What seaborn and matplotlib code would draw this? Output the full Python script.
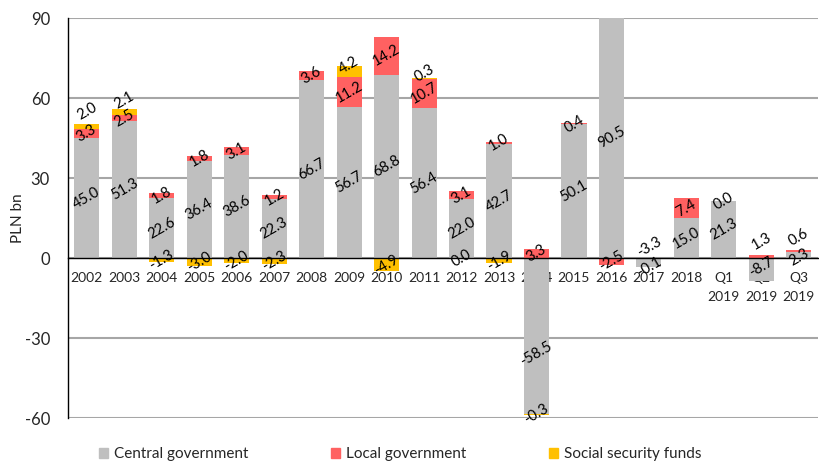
import numpy as np
import pandas as pd
import matplotlib
matplotlib.use("Agg")
import matplotlib.pyplot as plt
import matplotlib.patches as mpatches
import seaborn as sns

# -----------------------------------
# DATA (PLN bn)
# -----------------------------------
periods = ["2002", "2003", "2004", "2005", "2006", "2007", "2008", "2009", "2010",
           "2011", "2012", "2013", "2014", "2015", "2016", "2017", "2018",
           "Q1\n2019", "Q2\n2019", "Q3\n2019"]

central = [45.0, 51.3, 22.6, 36.4, 38.6, 22.3, 66.7, 56.7, 68.8, 56.4, 22.0, 42.7,
           -58.5, 50.1, 90.5, -3.3, 15.0, 21.3, -8.7, 2.3]
local = [3.3, 2.5, 1.8, 1.8, 3.1, 1.2, 3.6, 11.2, 14.2, 10.7, 3.1, 1.0,
         3.3, 0.4, -2.5, np.nan, 7.4, 0.0, 1.3, 0.6]
# 2012 value is shown as 0.0 but sits on the negative side in the chart
social = [2.0, 2.1, -1.3, -3.0, -2.0, -2.3, np.nan, 4.2, -4.9, 0.3, -0.04, -1.9,
          -0.3, np.nan, np.nan, -0.1, np.nan, np.nan, np.nan, np.nan]

series_names = ["Central government", "Local government", "Social security funds"]
colors = ["#BFBFBF", "#FF6161", "#FFC000"]

# label nudges in points (series index, bar index) -> dy, to keep labels apart
nudge = {(2, 0): 11, (2, 1): 8, (2, 7): 4, (2, 9): 4, (1, 18): 11,
         (1, 19): 10, (0, 15): 11, (0, 12): -13, (0, 18): 2, (0, 19): -2}


def fmt(val):
    s = f"{val:.1f}"
    return "0.0" if s == "-0.0" else s


# -----------------------------------
# STYLE
# -----------------------------------
sns.set_style("white")
plt.rcParams["font.family"] = ["Lato", "DejaVu Sans"]

fig, ax = plt.subplots(figsize=(8.2, 4.63), dpi=100)
fig.subplots_adjust(left=0.083, right=0.997, top=0.961, bottom=0.097)

# stacking: positives upward, negatives downward (Excel style)
pos_base = np.zeros(len(periods))
neg_base = np.zeros(len(periods))

for k, (name, vals, col) in enumerate(zip(series_names, [central, local, social], colors)):
    v = np.nan_to_num(np.array(vals, dtype=float))
    bottom = np.where(v >= 0, pos_base, neg_base)
    df = pd.DataFrame({"period": periods, "value": v})
    sns.barplot(data=df, x="period", y="value", bottom=bottom, color=col,
                width=0.67, saturation=1, linewidth=0, ax=ax, zorder=3)
    # labels at segment centres
    for i, raw in enumerate(vals):
        if np.isnan(raw):
            continue
        yc = min(bottom[i] + v[i] / 2, 88)
        ax.annotate(fmt(raw), (i, yc), xytext=(0, nudge.get((k, i), 0)),
                    textcoords="offset points", rotation=30, ha="center",
                    va="center", fontsize=10.5, color="black", zorder=5,
                    annotation_clip=False)
    pos_base = np.where(v >= 0, pos_base + v, pos_base)
    neg_base = np.where(v < 0, neg_base + v, neg_base)

# -----------------------------------
# AXES
# -----------------------------------
ax.set_ylim(-60, 90)
ax.set_xlim(-0.5, len(periods) - 0.5)
ax.set_yticks([-60, -30, 0, 30, 60, 90])
ax.set_yticklabels(["-60", "-30", "0", "30", "60", "90"], fontsize=12)
ax.set_ylabel("PLN bn", fontsize=11, labelpad=0)
ax.set_xlabel("")

ax.yaxis.grid(True, color="#A6A6A6", linewidth=1.5, zorder=0)
ax.set_axisbelow(True)

ax.spines["top"].set_visible(False)
ax.spines["right"].set_visible(False)
ax.spines["left"].set_color("black")
ax.spines["left"].set_linewidth(1.0)
ax.spines["bottom"].set_position(("data", 0))
ax.spines["bottom"].set_color("black")
ax.spines["bottom"].set_linewidth(1.0)
ax.spines["bottom"].set_zorder(4)

ax.set_xticks(range(len(periods)))
ax.set_xticklabels(periods, fontsize=10, linespacing=1.75)
ax.tick_params(axis="x", length=0, pad=10)
ax.set_xticks(np.arange(-0.5, len(periods), 1.0), minor=True)
ax.tick_params(axis="x", which="minor", length=4, color="#BFBFBF", width=1)
ax.tick_params(axis="y", length=5, color="#A6A6A6", width=1.2, pad=8)

# -----------------------------------
# LEGEND
# -----------------------------------
handles = [mpatches.Patch(color=c, label=n) for n, c in zip(series_names, colors)]
fig.legend(handles=handles, loc="lower left", bbox_to_anchor=(0.104, -0.026),
           ncol=3, frameon=False, fontsize=11, handlelength=0.6,
           handleheight=0.6, handletextpad=0.4, columnspacing=5.4)

fig.savefig("out.png", dpi=100)
